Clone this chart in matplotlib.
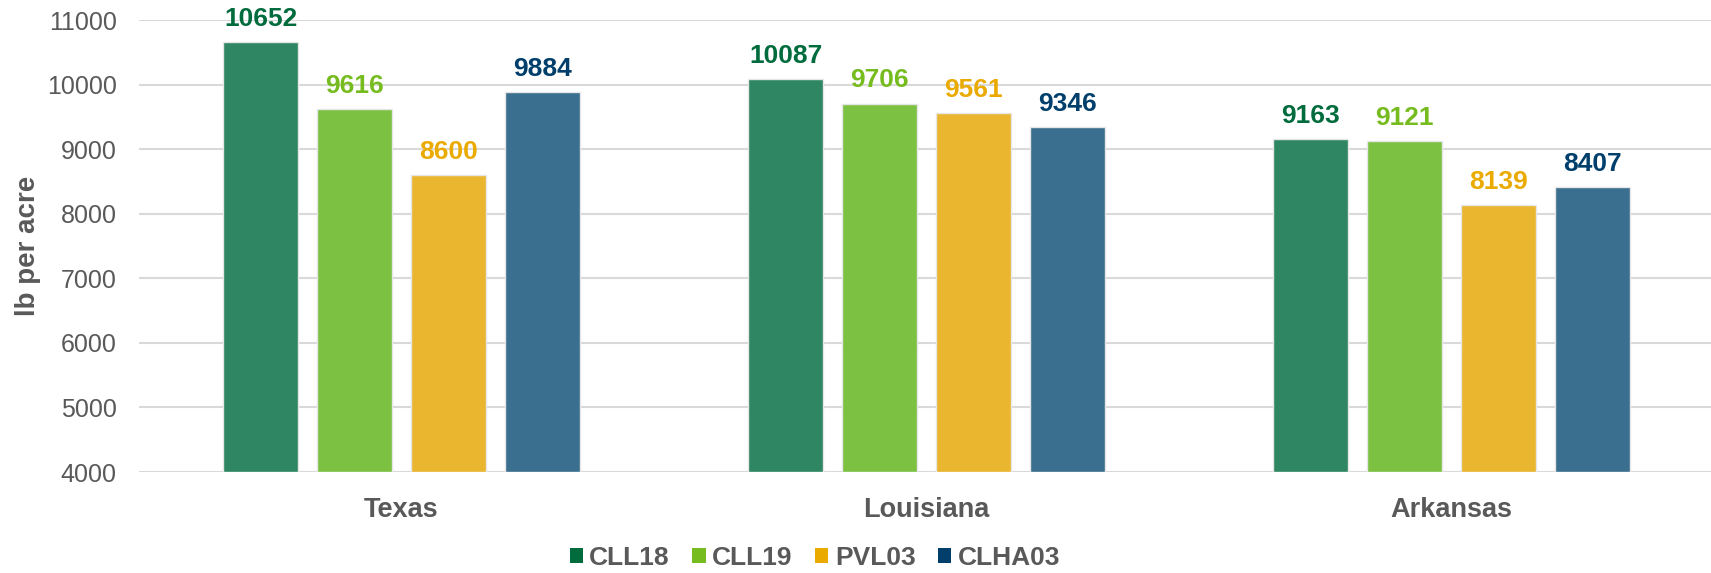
import matplotlib
matplotlib.use("Agg")
import matplotlib.pyplot as plt
import numpy as np

states = ["Texas", "Louisiana", "Arkansas"]
varieties = ["CLL18", "CLL19", "PVL03", "CLHA03"]
yields = {
    "CLL18": [10652, 10087, 9163],
    "CLL19": [9616, 9706, 9121],
    "PVL03": [8600, 9561, 8139],
    "CLHA03": [9884, 9346, 8407],
}
bar_colors = ["#2F8662", "#7CC142", "#EBB62F", "#3B6F8F"]
label_colors = ["#006B3C", "#77BC1F", "#EAAA00", "#003F6B"]

plt.rcParams["font.family"] = ["Liberation Sans", "DejaVu Sans"]
gray = "#595959"

fig = plt.figure(figsize=(17.11, 5.73), dpi=100)
ax = fig.add_axes([139 / 1711, 1 - 472 / 573, 1 - 139 / 1711, (472 - 20) / 573])

x = np.arange(len(states))
width = 0.143
pitch = 0.179
offsets = (np.arange(len(varieties)) - 1.5) * pitch
for i, name in enumerate(varieties):
    bars = ax.bar(x + offsets[i], np.array(yields[name]) - 4000, width, bottom=4000,
                  color=bar_colors[i], edgecolor="#E6E6E6", linewidth=1.0, zorder=3)
    for rect, val in zip(bars, yields[name]):
        ax.annotate(f"{val}", (rect.get_x() + rect.get_width() / 2, val),
                    xytext=(0, 8), textcoords="offset points", ha="center", va="bottom",
                    fontsize=19, fontweight="bold", color=label_colors[i])
    # square legend markers use the darker label colours
    ax.bar(0, 0, 0, color=label_colors[i], label=name)

ax.set_ylim(4000, 11000)
ax.set_xlim(-0.5, 2.494)
ax.set_yticks(range(4000, 11001, 1000))
ax.grid(axis="y", color="#D9D9D9", linewidth=1.5, zorder=0)
ax.set_axisbelow(True)
for s in ax.spines.values():
    s.set_visible(False)
ax.tick_params(axis="both", length=0)
ax.tick_params(axis="y", labelsize=18, labelcolor=gray, pad=16)
ax.set_xticks(x)
ax.set_xticklabels(states, fontsize=19.5, fontweight="bold", color=gray)
ax.tick_params(axis="x", pad=18)
ax.set_ylabel("lb per acre", fontsize=20, fontweight="bold", color=gray)
ax.yaxis.set_label_coords(-0.0625, 0.5)

handles, labels = ax.get_legend_handles_labels()
fig.legend(handles, labels, loc="center", bbox_to_anchor=(815 / 1711, 1 - 558 / 573), ncol=4,
           frameon=False, handlelength=0.5, handleheight=0.5, handletextpad=0.25,
           columnspacing=0.85, prop={"size": 19, "weight": "bold"}, labelcolor=gray)

fig.savefig("out.png", dpi=100)
